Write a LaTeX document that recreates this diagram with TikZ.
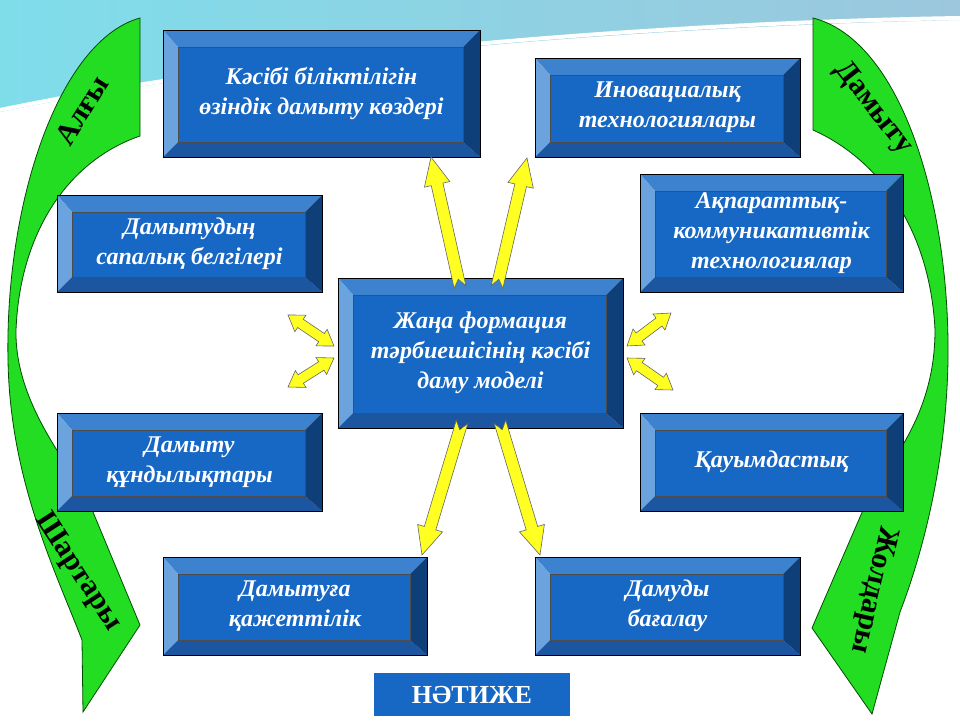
\documentclass[tikz,border=0pt]{standalone}
\usepackage{fontspec}
\setmainfont{Liberation Serif}
\usetikzlibrary{calc}
\definecolor{bfill}{HTML}{1767C4}
\definecolor{btop}{HTML}{3C82CF}
\definecolor{bleft}{HTML}{6AA3DE}
\definecolor{bbot}{HTML}{1C56A0}
\definecolor{bright}{HTML}{0E3F78}
\definecolor{gfill}{HTML}{22DD22}
\definecolor{afill}{HTML}{FFFF22}
\definecolor{skyA}{HTML}{7FDDEA}
\definecolor{skyB}{HTML}{9CC7DD}
\tikzset{lbl/.style={text=white,font=\fontsize{24}{30}\selectfont\bfseries\itshape,align=center},
 gtxt/.style={font=\fontsize{30}{30}\selectfont\bfseries},
 garrow/.style={fill=gfill,draw=black!70!green,line width=0.8pt},
 yarrow/.style={fill=afill,draw=black!60,line width=0.6pt,line join=miter}}
\newcommand\bevelbox[6]{%
 \fill[btop] (#2,#3) -- (#4,#3) -- (#4-17,#3+17) -- (#2+15,#3+17) -- cycle;
 \fill[bleft] (#2,#3) -- (#2+15,#3+17) -- (#2+15,#5-15) -- (#2,#5) -- cycle;
 \fill[bbot] (#2,#5) -- (#2+15,#5-15) -- (#4-17,#5-15) -- (#4,#5) -- cycle;
 \fill[bright] (#4,#3) -- (#4-17,#3+17) -- (#4-17,#5-15) -- (#4,#5) -- cycle;
 \fill[bfill] (#2+15,#3+17) rectangle (#4-17,#5-15);
 \draw[black,line width=0.8pt] (#2,#3) rectangle (#4,#5);
 \draw[black!70,line width=0.4pt] (#2+15,#3+17) rectangle (#4-17,#5-15);
 \node[lbl] (#1) at ({(#2+#4)/2},{(#3+#5)/2}) {#6};}
\newcommand\singlearrow[2]{%
 \path let \p1=(#1),\p2=(#2),\n1={atan2(\y2-\y1,\x2-\x1)},\n2={veclen(\x2-\x1,\y2-\y1)} in
 [shift={(\p1)},rotate=\n1] node{} [yarrow] (0pt,6pt) -- (\n2-28pt,6pt) -- (\n2-28pt,13pt) -- (\n2,0pt) -- (\n2-28pt,-13pt) -- (\n2-28pt,-6pt) -- (0pt,-6pt) -- (8pt,0pt) -- cycle;}
\newcommand\doublearrow[2]{%
 \path let \p1=(#1),\p2=(#2),\n1={atan2(\y2-\y1,\x2-\x1)},\n2={veclen(\x2-\x1,\y2-\y1)} in
 [shift={(\p1)},rotate=\n1] node{} [yarrow] (15pt,5pt) -- (\n2-15pt,5pt) -- (\n2-15pt,10pt) -- (\n2,0pt) -- (\n2-15pt,-10pt) -- (\n2-15pt,-5pt) -- (15pt,-5pt) -- (15pt,-10pt) -- (0pt,0pt) -- (15pt,10pt) -- cycle;}
\begin{document}
\begin{tikzpicture}[x=1pt,y=-1pt]
\useasboundingbox (0,0) rectangle (960,720);
\fill[white] (0,0) rectangle (960,720);
% top background swoosh
\shade[left color=skyA,right color=skyB] (0,0) -- (960,0) -- (960,20) .. controls (700,25) and (300,50) .. (0,112) -- cycle;
\draw[white,line width=4pt] (0,110) .. controls (300,48) and (700,22) .. (960,18);
\draw[white,line width=1pt] (0,118) .. controls (300,60) and (650,28) .. (960,28);
% green arrows
\draw[garrow] (140,18) .. controls (60,40) and (5,200) .. (8,360) .. controls (10,480) and (55,570) .. (82,640) -- (83,712) -- (140,625) -- (83,488) .. controls (40,430) and (15,380) .. (16,330) .. controls (20,230) and (70,160) .. (140,136) -- cycle;
\draw[garrow] (813,18) .. controls (900,40) and (950,200) .. (948,360) .. controls (946,470) and (920,560) .. (900,612) -- (872,714) -- (812,628) -- (873,487) .. controls (920,430) and (935,380) .. (935,330) .. controls (930,230) and (880,160) .. (813,130) -- cycle;
\node[gtxt,rotate=58] (t1) at (82,110) {Алғы};
\node[gtxt,rotate=-57] (t2) at (78,572) {Шартары};
\node[gtxt,rotate=-52] (t3) at (873,108) {Дамыту};
\node[gtxt,rotate=-103] (t4) at (873,590) {Жолдары};
% boxes
\bevelbox{b1}{163}{30}{480}{157}{Кәсібі біліктілігін\\өзіндік дамыту көздері}
\bevelbox{b2}{535}{58}{800}{157}{Иновациалық\\технологиялары}
\bevelbox{b3}{57}{195}{322}{292}{Дамытудың\\сапалық белгілері}
\bevelbox{b4}{640}{174}{903}{292}{Ақпараттық-\\коммуникативтік\\технологиялар}
\bevelbox{c}{338}{278}{623}{428}{Жаңа формация\\тәрбиешісінің кәсібі\\даму моделі}
\bevelbox{b6}{57}{413}{322}{511}{Дамыту\\құндылықтары}
\bevelbox{b7}{640}{413}{903}{511}{Қауымдастық}
\bevelbox{b8}{163}{557}{427}{655}{Дамытуға\\қажеттілік}
\bevelbox{b9}{535}{557}{800}{655}{Дамуды\\бағалау}
\fill[bfill] (374,673) rectangle (570,716);
\node[text=white,font=\fontsize{26}{26}\selectfont\bfseries] (res) at (472,695) {НӘТИЖЕ};
% yellow arrows
\coordinate (u1s) at (460,287); \coordinate (u1e) at (431,157);
\coordinate (u2s) at (497,287); \coordinate (u2e) at (527,158);
\coordinate (d1s) at (462,422); \coordinate (d1e) at (422,555);
\coordinate (d2s) at (500,422); \coordinate (d2e) at (540,555);
\coordinate (l1s) at (334,346); \coordinate (l1e) at (288,315);
\coordinate (l2s) at (334,358); \coordinate (l2e) at (288,387);
\coordinate (r1s) at (627,346); \coordinate (r1e) at (671,313);
\coordinate (r2s) at (627,358); \coordinate (r2e) at (673,390);
\singlearrow{u1s}{u1e}\singlearrow{u2s}{u2e}
\singlearrow{d1s}{d1e}\singlearrow{d2s}{d2e}
\doublearrow{l1s}{l1e}\doublearrow{l2s}{l2e}
\doublearrow{r1s}{r1e}\doublearrow{r2s}{r2e}
\end{tikzpicture}
\end{document}
